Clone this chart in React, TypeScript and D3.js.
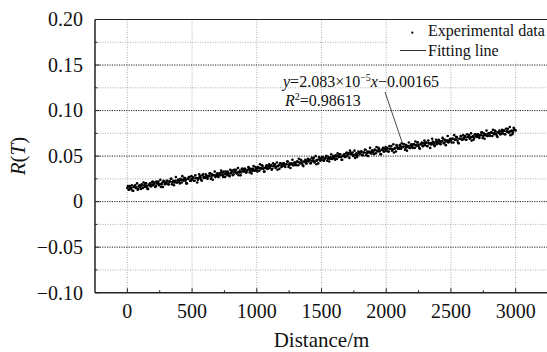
import React from "react";
import * as d3 from "d3";

const X_TICKS = [0, 500, 1000, 1500, 2000, 2500, 3000];
const X_MINOR = [250, 750, 1250, 1750, 2250, 2750, 3250];
const Y_TICKS = [-0.1, -0.05, 0, 0.05, 0.1, 0.15, 0.2];
const Y_TICK_LABELS = ["\u22120.10", "\u22120.05", "0", "0.05", "0.10", "0.15", "0.20"];
const Y_MINOR = [-0.075, -0.025, 0.025, 0.075, 0.125, 0.175];

// Experimental data, sampled every 10 m (set A starts at 0 m, set B at 5 m)
const DIST_STEP = 10;
const R_VALUES_A = [
  0.015, 0.013, 0.017, 0.014, 0.012, 0.016, 0.018, 0.015, 0.013, 0.017,
  0.016, 0.019, 0.015, 0.018, 0.020, 0.016, 0.014, 0.019, 0.017, 0.021,
  0.018, 0.021, 0.017, 0.020, 0.022, 0.019, 0.016, 0.021, 0.023, 0.019,
  0.020, 0.023, 0.019, 0.022, 0.025, 0.021, 0.018, 0.023, 0.021, 0.024,
  0.022, 0.025, 0.021, 0.024, 0.026, 0.023, 0.020, 0.025, 0.027, 0.023,
  0.024, 0.027, 0.023, 0.026, 0.021, 0.025, 0.028, 0.024, 0.029, 0.026,
  0.026, 0.029, 0.025, 0.028, 0.031, 0.027, 0.024, 0.029, 0.027, 0.030,
  0.028, 0.031, 0.029, 0.032, 0.027, 0.030, 0.033, 0.029, 0.031, 0.028,
  0.031, 0.034, 0.030, 0.033, 0.035, 0.031, 0.029, 0.034, 0.032, 0.036,
  0.033, 0.036, 0.032, 0.035, 0.037, 0.034, 0.031, 0.036, 0.034, 0.038,
  0.035, 0.038, 0.034, 0.037, 0.040, 0.036, 0.033, 0.038, 0.036, 0.039,
  0.037, 0.040, 0.036, 0.039, 0.041, 0.038, 0.035, 0.040, 0.042, 0.038,
  0.039, 0.042, 0.038, 0.041, 0.044, 0.040, 0.037, 0.042, 0.040, 0.043,
  0.041, 0.044, 0.040, 0.043, 0.046, 0.042, 0.039, 0.044, 0.042, 0.045,
  0.044, 0.046, 0.043, 0.045, 0.048, 0.044, 0.041, 0.046, 0.049, 0.045,
  0.046, 0.049, 0.045, 0.048, 0.050, 0.047, 0.044, 0.049, 0.047, 0.050,
  0.048, 0.051, 0.047, 0.050, 0.052, 0.049, 0.046, 0.051, 0.049, 0.053,
  0.050, 0.053, 0.056, 0.052, 0.054, 0.051, 0.048, 0.053, 0.051, 0.054,
  0.052, 0.055, 0.051, 0.054, 0.057, 0.053, 0.050, 0.055, 0.053, 0.056,
  0.054, 0.057, 0.053, 0.056, 0.059, 0.055, 0.052, 0.057, 0.055, 0.058,
  0.056, 0.059, 0.055, 0.058, 0.061, 0.057, 0.054, 0.059, 0.062, 0.058,
  0.058, 0.061, 0.064, 0.060, 0.063, 0.059, 0.056, 0.061, 0.059, 0.062,
  0.060, 0.063, 0.059, 0.062, 0.065, 0.061, 0.058, 0.063, 0.061, 0.064,
  0.062, 0.065, 0.061, 0.064, 0.059, 0.063, 0.066, 0.062, 0.065, 0.063,
  0.064, 0.067, 0.063, 0.066, 0.069, 0.065, 0.062, 0.067, 0.065, 0.068,
  0.067, 0.069, 0.065, 0.068, 0.071, 0.067, 0.064, 0.069, 0.072, 0.068,
  0.069, 0.072, 0.068, 0.071, 0.073, 0.070, 0.067, 0.072, 0.070, 0.074,
  0.071, 0.074, 0.070, 0.073, 0.076, 0.072, 0.069, 0.074, 0.072, 0.075,
  0.073, 0.076, 0.072, 0.075, 0.078, 0.074, 0.071, 0.076, 0.074, 0.077,
  0.075, 0.078, 0.074, 0.077, 0.080, 0.076, 0.073, 0.078, 0.076, 0.079,
  0.078,
];
const R_VALUES_B = [
  0.017, 0.013, 0.015, 0.018, 0.012, 0.017, 0.015, 0.020, 0.014, 0.018,
  0.014, 0.018, 0.021, 0.016, 0.020, 0.014, 0.018, 0.020, 0.017, 0.022,
  0.020, 0.016, 0.022, 0.020, 0.018, 0.024, 0.019, 0.016, 0.022, 0.021,
  0.023, 0.019, 0.022, 0.025, 0.019, 0.023, 0.021, 0.027, 0.021, 0.024,
  0.020, 0.024, 0.028, 0.023, 0.026, 0.020, 0.025, 0.027, 0.023, 0.028,
  0.026, 0.023, 0.029, 0.026, 0.024, 0.030, 0.026, 0.023, 0.030, 0.027,
  0.030, 0.026, 0.028, 0.031, 0.025, 0.030, 0.029, 0.033, 0.028, 0.031,
  0.027, 0.031, 0.034, 0.029, 0.033, 0.027, 0.031, 0.033, 0.029, 0.035,
  0.033, 0.029, 0.035, 0.032, 0.031, 0.037, 0.032, 0.029, 0.036, 0.034,
  0.036, 0.032, 0.034, 0.038, 0.032, 0.036, 0.034, 0.039, 0.034, 0.037,
  0.033, 0.037, 0.041, 0.036, 0.039, 0.033, 0.037, 0.040, 0.036, 0.041,
  0.039, 0.035, 0.042, 0.039, 0.037, 0.043, 0.039, 0.036, 0.042, 0.040,
  0.042, 0.039, 0.041, 0.044, 0.038, 0.042, 0.041, 0.046, 0.040, 0.043,
  0.040, 0.044, 0.047, 0.042, 0.045, 0.040, 0.044, 0.046, 0.042, 0.047,
  0.046, 0.042, 0.048, 0.045, 0.043, 0.050, 0.045, 0.042, 0.048, 0.047,
  0.049, 0.045, 0.047, 0.050, 0.045, 0.049, 0.047, 0.052, 0.047, 0.050,
  0.046, 0.050, 0.053, 0.049, 0.052, 0.046, 0.050, 0.052, 0.049, 0.054,
  0.052, 0.048, 0.054, 0.052, 0.050, 0.056, 0.051, 0.049, 0.055, 0.053,
  0.055, 0.051, 0.054, 0.057, 0.051, 0.055, 0.054, 0.059, 0.053, 0.056,
  0.052, 0.057, 0.060, 0.055, 0.058, 0.052, 0.057, 0.059, 0.055, 0.060,
  0.058, 0.055, 0.061, 0.058, 0.056, 0.063, 0.058, 0.055, 0.061, 0.059,
  0.062, 0.058, 0.060, 0.063, 0.057, 0.062, 0.060, 0.065, 0.059, 0.063,
  0.059, 0.063, 0.066, 0.061, 0.065, 0.059, 0.063, 0.065, 0.061, 0.067,
  0.065, 0.061, 0.067, 0.064, 0.063, 0.069, 0.064, 0.061, 0.068, 0.066,
  0.068, 0.064, 0.066, 0.070, 0.064, 0.068, 0.066, 0.072, 0.066, 0.069,
  0.065, 0.069, 0.073, 0.068, 0.071, 0.065, 0.069, 0.072, 0.068, 0.073,
  0.071, 0.068, 0.074, 0.071, 0.069, 0.075, 0.071, 0.068, 0.074, 0.072,
  0.074, 0.071, 0.073, 0.076, 0.070, 0.075, 0.073, 0.078, 0.072, 0.075,
  0.072, 0.076, 0.079, 0.074, 0.077, 0.072, 0.076, 0.078, 0.074, 0.079,
  0.078, 0.074, 0.080, 0.077, 0.076, 0.082, 0.077, 0.074, 0.081, 0.079,
];
const DISTANCES_A = R_VALUES_A.map((_, i) => i * DIST_STEP);
const DISTANCES_B = R_VALUES_B.map((_, i) => i * DIST_STEP + DIST_STEP / 2);

const FIT_X = [0, 3000];
const FIT_Y = [0.0147, 0.0788];

const W = 547;
const H = 352;
const L = 95, R = 548, T = 19.5, B = 292.7;
const FONT = "'Liberation Serif', 'Times New Roman', serif";

export default function App() {
  const x = d3.scaleLinear().domain([-250, 3250]).range([L, R]);
  const y = d3.scaleLinear().domain([-0.1, 0.2]).range([B, T]);
  const line = d3.line<number>().x((d) => x(FIT_X[d])).y((d) => y(FIT_Y[d]));

  return (
    <svg width={W} height={H} style={{ position: "absolute", left: 0, top: 0, background: "#fff" }} fontFamily={FONT}>
      <rect x={0} y={0} width={W} height={H} fill="#fff" />
      {Y_MINOR.map((v) => (
        <line key={"ym" + v} x1={L} x2={R} y1={y(v)} y2={y(v)} stroke="#999" strokeWidth={0.8} strokeDasharray="1,1.5" />
      ))}
      {X_TICKS.map((v) => (
        <line key={"xg" + v} x1={x(v)} x2={x(v)} y1={T} y2={B} stroke="#999" strokeWidth={0.8} strokeDasharray="1,1.5" />
      ))}
      {Y_TICKS.filter((v) => v > -0.1 && v < 0.2).map((v) => (
        <line key={"yg" + v} x1={L} x2={R} y1={y(v)} y2={y(v)} stroke="#222" strokeWidth={1} strokeDasharray="1.2,1.2" />
      ))}
      <rect x={388} y={T + 1} width={R - 388} height={42} fill="#fff" />
      {R_VALUES_A.map((v, i) => (
        <circle key={"pa" + i} cx={x(DISTANCES_A[i])} cy={y(v)} r={1.3} fill="#000" />
      ))}
      {R_VALUES_B.map((v, i) => (
        <circle key={"pb" + i} cx={x(DISTANCES_B[i])} cy={y(v)} r={1.3} fill="#000" />
      ))}
      <path d={line([0, 1]) || ""} stroke="#000" strokeWidth={1} fill="none" />
      <line x1={L} x2={R} y1={T} y2={T} stroke="#222" strokeWidth={1.2} />
      <line x1={L} x2={L} y1={T} y2={B} stroke="#222" strokeWidth={1.5} />
      <line x1={L} x2={R} y1={B} y2={B} stroke="#222" strokeWidth={1.5} />
      {X_TICKS.map((v) => (
        <line key={"xt" + v} x1={x(v)} x2={x(v)} y1={B} y2={B - 4.5} stroke="#222" strokeWidth={1} />
      ))}
      {X_MINOR.map((v) => (
        <line key={"xtm" + v} x1={x(v)} x2={x(v)} y1={B} y2={B - 2.5} stroke="#222" strokeWidth={1} />
      ))}
      {Y_TICKS.map((v) => (
        <line key={"yt" + v} x1={L} x2={L + 4.5} y1={y(v)} y2={y(v)} stroke="#222" strokeWidth={1} />
      ))}
      {Y_MINOR.map((v) => (
        <line key={"ytm" + v} x1={L} x2={L + 2.5} y1={y(v)} y2={y(v)} stroke="#222" strokeWidth={1} />
      ))}
      {X_TICKS.map((v) => (
        <text key={"xl" + v} x={x(v)} y={318} fontSize={20} textAnchor="middle" fill="#111">{v}</text>
      ))}
      {Y_TICKS.map((v, i) => (
        <text key={"yl" + v} x={83} y={y(v)} dy="0.34em" fontSize={20} textAnchor="end" fill="#111">{Y_TICK_LABELS[i]}</text>
      ))}
      <text x={(L + R) / 2} y={347} fontSize={21} textAnchor="middle" fill="#111">Distance/m</text>
      <text transform={`translate(25, ${(T + B) / 2}) rotate(-90)`} fontSize={21} textAnchor="middle" fill="#111">
        <tspan fontStyle="italic">R</tspan>(<tspan fontStyle="italic">T</tspan>)
      </text>
      <circle cx={412.3} cy={32.7} r={1.1} fill="#000" />
      <text x={428} y={36} fontSize={16} fill="#111">Experimental data</text>
      <line x1={400} x2={426} y1={50.5} y2={50.5} stroke="#333" strokeWidth={1} />
      <text x={428} y={56} fontSize={16} fill="#111">Fitting line</text>
      <text x={283} y={86.5} fontSize={16} fill="#111">
        <tspan fontStyle="italic">y</tspan>=2.083×10<tspan fontSize={10} dy={-6}>−5</tspan>
        <tspan fontStyle="italic" dy={6}>x</tspan>−0.00165
      </text>
      <text x={285} y={105.5} fontSize={16} fill="#111">
        <tspan fontStyle="italic">R</tspan><tspan fontSize={10} dy={-6}>2</tspan><tspan dy={6}>=0.98613</tspan>
      </text>
      <line x1={385} x2={402} y1={92} y2={142} stroke="#333" strokeWidth={0.9} />
    </svg>
  );
}
